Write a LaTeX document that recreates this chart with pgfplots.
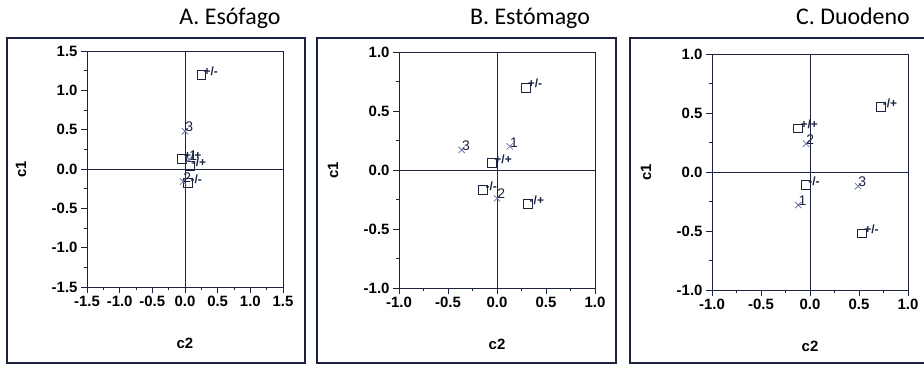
\documentclass[border=0pt]{standalone}
\usepackage{pgfplots}
\pgfplotsset{compat=1.18}
\usepackage{pgfplotstable}
\usepackage{fontspec}
\setmainfont{Liberation Sans}
\newfontfamily\titlefont{Carlito}

\definecolor{ink}{HTML}{1C2340}
\definecolor{crossc}{HTML}{6B78A6}

% squares = category points, crosses = cluster points
\pgfplotstableread{
x y lab
0.25 1.20 +/-
-0.05 0.13 +/+
0.07 0.04 -/+
0.05 -0.18 -/-
}\esoSq
\pgfplotstableread{
x y lab
0.00 0.48 3
0.06 0.12 1
-0.03 -0.16 2
}\esoX
\pgfplotstableread{
x y lab
0.29 0.70 +/-
-0.05 0.06 +/+
-0.14 -0.17 -/-
0.31 -0.29 -/+
}\estSq
\pgfplotstableread{
x y lab
-0.36 0.17 3
0.13 0.20 1
0.00 -0.24 2
}\estX
\pgfplotstableread{
x y lab
0.72 0.55 -/+
-0.12 0.37 +/+
-0.04 -0.11 -/-
0.53 -0.52 +/-
}\duoSq
\pgfplotstableread{
x y lab
-0.04 0.24 2
-0.12 -0.28 1
0.49 -0.12 3
}\duoX

\pgfplotsset{
  panel/.style={
    scale only axis, width=196bp, height=236bp, anchor=south west,
    axis line style={ink, line width=1pt},
    tick align=outside, tick pos=left, minor tick num=1,
    major tick length=6bp, minor tick length=3bp,
    every tick/.style={ink, line width=0.8pt},
    /pgf/number format/assume math mode=true,
    tick label style={font=\bfseries\fontsize{15}{15}\selectfont,
      /pgf/number format/fixed, /pgf/number format/fixed zerofill,
      /pgf/number format/precision=1},
    extra x ticks={0}, extra y ticks={0},
    extra x tick labels={}, extra y tick labels={},
    extra tick style={grid=major, major grid style={ink, line width=0.9pt}},
    xlabel={c2}, ylabel={c1},
    label style={font=\bfseries\fontsize{15}{15}\selectfont},
    xlabel style={at={(axis description cs:0.5,0)}, anchor=center, yshift=-56bp},
    ylabel style={at={(axis description cs:0,0.5)}, anchor=center, yshift=66bp},
    clip=false,
  },
  sq/.style={only marks, mark=square, mark size=4.5pt, ink, mark options={line width=0.7pt},
    nodes near coords, point meta=explicit symbolic,
    nodes near coords style={anchor=south west, inner sep=0pt, xshift=2bp, yshift=-1bp,
      font=\bfseries\fontsize{12}{12}\selectfont, text=ink}},
  cr/.style={only marks, mark=x, mark size=4.5pt, crossc, mark options={line width=0.8pt},
    nodes near coords, point meta=explicit symbolic,
    nodes near coords style={anchor=south west, inner sep=0pt, xshift=0bp, yshift=-1bp,
      font=\fontsize{14}{14}\selectfont, text=ink}},
}

\begin{document}
\begin{tikzpicture}
\useasboundingbox (0bp,0bp) rectangle (924bp,366bp);

% panel frames
\draw[ink, line width=1.5bp] (7bp,3bp) rectangle (305bp,328bp);
\draw[ink, line width=1.5bp] (317bp,3bp) rectangle (616bp,328bp);
\draw[ink, line width=1.5bp] (924bp,3bp) -- (630bp,3bp) -- (630bp,328bp) -- (924bp,328bp);

% titles
\node[anchor=base, font=\titlefont\fontsize{24}{24}\selectfont] at (230bp,341bp) {A. Esófago};
\node[anchor=base, font=\titlefont\fontsize{24}{24}\selectfont] at (530bp,341bp) {B. Estómago};
\node[anchor=base, font=\titlefont\fontsize{24}{24}\selectfont] at (853bp,341bp) {C. Duodeno};

\begin{axis}[panel, at={(87bp,79bp)},
  xmin=-1.5, xmax=1.5, ymin=-1.5, ymax=1.5,
  xtick={-1.5,-1,-0.5,0,0.5,1,1.5}, ytick={-1.5,-1,-0.5,0,0.5,1,1.5}]
\addplot[sq] table[x=x, y=y, meta=lab] {\esoSq};
\addplot[cr] table[x=x, y=y, meta=lab] {\esoX};
\end{axis}

\begin{axis}[panel, at={(399bp,78bp)},
  xmin=-1, xmax=1, ymin=-1, ymax=1,
  xtick={-1,-0.5,0,0.5,1}, ytick={-1,-0.5,0,0.5,1}]
\addplot[sq] table[x=x, y=y, meta=lab] {\estSq};
\addplot[cr] table[x=x, y=y, meta=lab] {\estX};
\end{axis}

\begin{axis}[panel, at={(712bp,76bp)},
  xmin=-1, xmax=1, ymin=-1, ymax=1,
  xtick={-1,-0.5,0,0.5,1}, ytick={-1,-0.5,0,0.5,1}]
\addplot[sq] table[x=x, y=y, meta=lab] {\duoSq};
\addplot[cr] table[x=x, y=y, meta=lab] {\duoX};
\end{axis}
\end{tikzpicture}
\end{document}
